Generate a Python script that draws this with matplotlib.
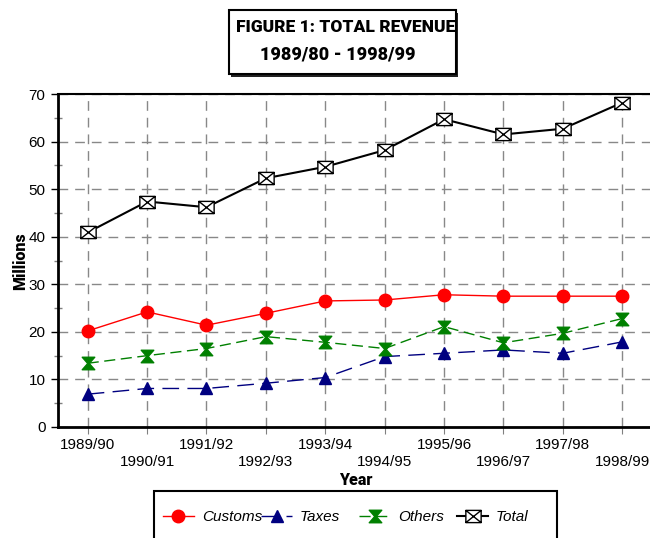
import matplotlib
matplotlib.use("Agg")
import matplotlib.pyplot as plt
from matplotlib.path import Path
from matplotlib.patches import Rectangle
import numpy as np

years = ["1989/90", "1990/91", "1991/92", "1992/93", "1993/94",
         "1994/95", "1995/96", "1996/97", "1997/98", "1998/99"]
customs = [20.2, 24.2, 21.4, 23.9, 26.5, 26.7, 27.8, 27.5, 27.5, 27.5]
taxes = [6.9, 8.1, 8.1, 9.2, 10.4, 14.8, 15.5, 16.2, 15.5, 17.9]
others = [13.4, 15.0, 16.5, 19.0, 17.8, 16.5, 21.1, 17.7, 19.7, 22.8]
total = [40.9, 47.4, 46.2, 52.3, 54.7, 58.2, 64.7, 61.5, 62.7, 68.2]

W, H = 650, 538
fig = plt.figure(figsize=(W / 100, H / 100), dpi=100)
sans = ["Liberation Sans", "DejaVu Sans"]
heavy = ["Roboto", "Liberation Sans", "DejaVu Sans"]

ax = fig.add_axes([58 / W, (H - 427) / H, 594 / W, 333 / H])
x = np.arange(len(years))

hourglass = Path([(-1, 1), (1, 1), (0.12, 0), (1, -1), (-1, -1), (-0.12, 0), (-1, 1)],
                 [Path.MOVETO] + [Path.LINETO] * 5 + [Path.CLOSEPOLY])
boxx = Path([(-1, -0.8), (1, -0.8), (1, 0.8), (-1, 0.8), (-1, -0.8),
             (-1, -0.8), (1, 0.8), (-1, 0.8), (1, -0.8)],
            [Path.MOVETO, Path.LINETO, Path.LINETO, Path.LINETO, Path.CLOSEPOLY,
             Path.MOVETO, Path.LINETO, Path.MOVETO, Path.LINETO])

ax.plot(x, customs, color="red", lw=1, marker="o", ms=9, mec="red", mfc="red", label="Customs", zorder=4)
ax.plot(x, taxes, color="navy", lw=1, ls=(0, (12, 6)), marker="^", ms=9, mec="navy", mfc="navy", label="Taxes", zorder=4)
ax.plot(x, others, color="green", lw=1, ls=(0, (8, 4)), marker=hourglass, ms=9, mec="green", mfc="green", label="Others", zorder=4)
ax.plot(x, total, color="black", lw=1.5, marker=boxx, ms=11, mec="black", mfc="white", mew=1, label="Total", zorder=4)

ax.set_xlim(-0.5, 9.5)
ax.set_ylim(0, 70)
ax.set_yticks(np.arange(0, 71, 10))
ax.set_yticks(np.arange(5, 70, 10), minor=True)
ax.set_xticks(x)
ax.set_xticklabels([y if i % 2 == 0 else "\n" + y for i, y in enumerate(years)],
                   fontfamily=sans, fontsize=11, linespacing=1.3)
for lab in ax.get_yticklabels():
    lab.set_fontfamily(sans)
    lab.set_fontsize(11)
ax.tick_params(axis="y", which="major", direction="out", length=5, width=1, pad=4)
ax.tick_params(axis="y", which="minor", direction="inout", length=6, width=1, color="gray")
ax.tick_params(axis="x", direction="out", length=5, color="gray", pad=3)
ax.grid(True, color="#888888", ls=(0, (7, 5)), lw=1)
ax.set_axisbelow(True)
for s in ["left", "bottom"]:
    ax.spines[s].set_linewidth(2)
ax.spines["top"].set_linewidth(1.5)
ax.spines["right"].set_visible(False)

fig.text(20 / W, 1 - 261 / H, "Millions", rotation=90, ha="center", va="center",
         fontfamily=heavy, fontweight=900, fontsize=11.5)
fig.text(356 / W, 1 - 480 / H, "Year", ha="center", va="center",
         fontfamily=heavy, fontweight=900, fontsize=11.5)

# title box with shadow
fig.patches.append(Rectangle((231 / W, 1 - 77 / H), 227 / W, 64 / H, transform=fig.transFigure,
                             facecolor="#222222", edgecolor="none", zorder=1))
fig.patches.append(Rectangle((228.5 / W, 1 - 74 / H), 227 / W, 64 / H, transform=fig.transFigure,
                             facecolor="white", edgecolor="black", lw=1.5, zorder=2))
fig.text(346 / W, 1 - 27 / H, "FIGURE 1: TOTAL REVENUE", ha="center", va="center",
         fontfamily=heavy, fontweight=900, fontsize=12.5, zorder=3)
fig.text(338 / W, 1 - 55 / H, "1989/80 - 1998/99", ha="center", va="center",
         fontfamily=heavy, fontweight=900, fontsize=13, zorder=3)

# legend box
fig.patches.append(Rectangle((154 / W, -10 / H), 403 / W, (H - 491 + 10) / H, transform=fig.transFigure,
                             facecolor="white", edgecolor="black", lw=1.5, zorder=1))
handles, labels = ax.get_legend_handles_labels()
starts = [163, 261, 359, 457]
fs = 11
em = fs * 100 / 72
for h, l, xs in zip(handles, labels, starts):
    leg = fig.legend([h], [l], loc="center left", bbox_to_anchor=(xs / W, 1 - 517 / H),
                     frameon=False, borderpad=0, borderaxespad=0,
                     handlelength=31 / em, handletextpad=8 / em,
                     prop={"family": sans, "style": "italic", "size": fs})
    leg.set_zorder(5)

fig.savefig("out.png", dpi=100)
